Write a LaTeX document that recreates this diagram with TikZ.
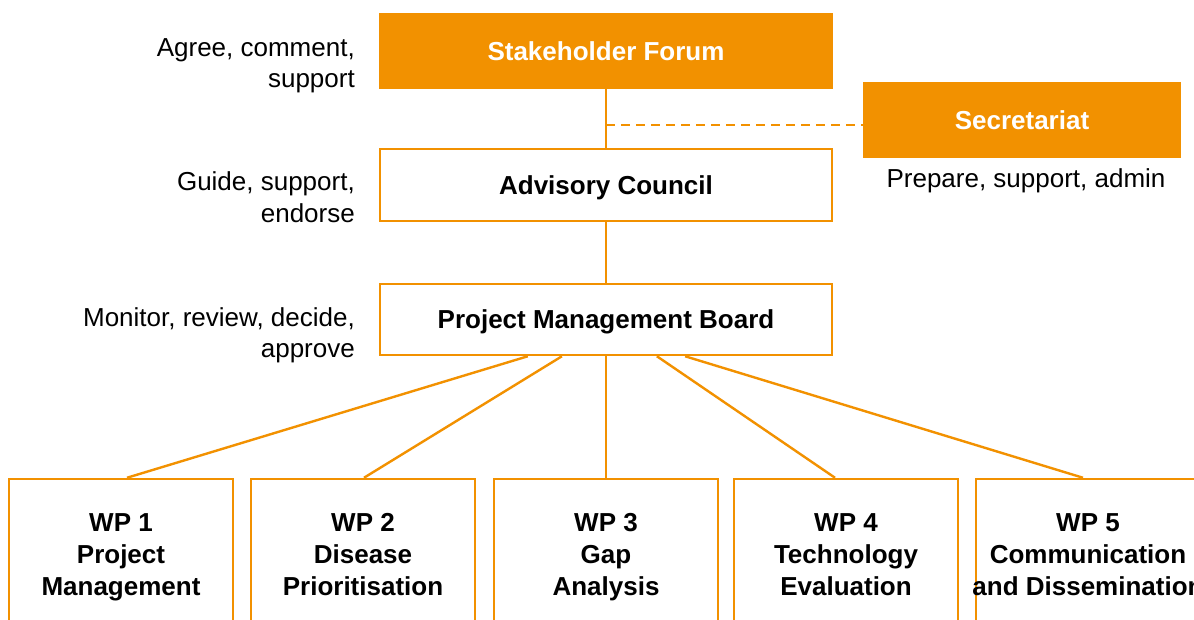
\documentclass[tikz,border=0pt]{standalone}
\usepackage{fontspec}
\setmainfont{Liberation Sans}
\usetikzlibrary{calc}
\definecolor{org}{HTML}{F29100}
\begin{document}
\begin{tikzpicture}[x=1pt,y=-1pt,
  lbl/.style={font=\fontsize{26}{31.5}\selectfont, text=black, inner sep=0pt},
  filledbox/.style={fill=org, draw=none, text=white, font=\fontsize{26}{31}\selectfont\bfseries, minimum width=#1, minimum height=76, inner sep=0pt, text height=18.6pt, text depth=0pt},
  outbox/.style={draw=org, line width=2.5pt, fill=white, font=\fontsize{26}{31}\selectfont\bfseries, minimum width=#1, inner sep=0pt, text height=18.6pt, text depth=0pt},
  wpbox/.style={draw=org, line width=2.5pt, fill=white, font=\fontsize{26}{32}\selectfont\bfseries, align=center, minimum width=224, minimum height=156, inner sep=0pt},
  conn/.style={draw=org, line width=2.4pt}]
\useasboundingbox (0,0) rectangle (1194,619);
\clip (0,0) rectangle (1194,619);
\fill[white] (0,0) rectangle (1194,619);

\node[filledbox=454] (sf) at (606,51) {Stakeholder Forum};
\node[filledbox=318] (sec) at (1022,120) {Secretariat};
\node[outbox=452, minimum height=72] (ac) at (606,185) {Advisory Council};
\node[outbox=452, minimum height=71] (pmb) at (606,319.5) {Project Management Board};

\node[lbl, align=right, anchor=east] (l1) at (355,66) {Agree, comment,\\support};
\node[lbl, align=right, anchor=east] (l2) at (355,197) {Guide, support,\\endorse};
\node[lbl, align=right, anchor=east] (l3) at (355,335.5) {Monitor, review, decide,\\approve};
\node[lbl] (l4) at (1026,181) {Prepare, support, admin};

\node[wpbox] (wp1) at (121,557) {WP 1\strut\\Project\strut\\Management\strut};
\node[wpbox] (wp2) at (363,557) {WP 2\strut\\Disease\strut\\Prioritisation\strut};
\node[wpbox] (wp3) at (606,557) {WP 3\strut\\Gap\strut\\Analysis\strut};
\node[wpbox] (wp4) at (846,557) {WP 4\strut\\Technology\strut\\Evaluation\strut};
\node[wpbox] (wp5) at (1088,557) {WP 5\strut\\Communication\strut\\\makebox[0pt]{and Dissemination}\strut};

\coordinate (j) at (606,125);
\coordinate (s) at (sec.west |- j);
\draw[conn] (sf.south) -- (ac.north);
\draw[conn, dash pattern=on 9pt off 6pt] (j) -- (s);
\draw[conn] (ac.south) -- (pmb.north);

\draw[conn] ($(pmb.south west)!0.328!(pmb.south east)$) -- ($(wp1.north)+(6,0)$);
\draw[conn] ($(pmb.south west)!0.403!(pmb.south east)$) -- ($(wp2.north)+(1,0)$);
\draw[conn] (pmb.south) -- (wp3.north);
\draw[conn] ($(pmb.south west)!0.612!(pmb.south east)$) -- ($(wp4.north)+(-11,0)$);
\draw[conn] ($(pmb.south west)!0.674!(pmb.south east)$) -- ($(wp5.north)+(-5,0)$);
\end{tikzpicture}
\end{document}
